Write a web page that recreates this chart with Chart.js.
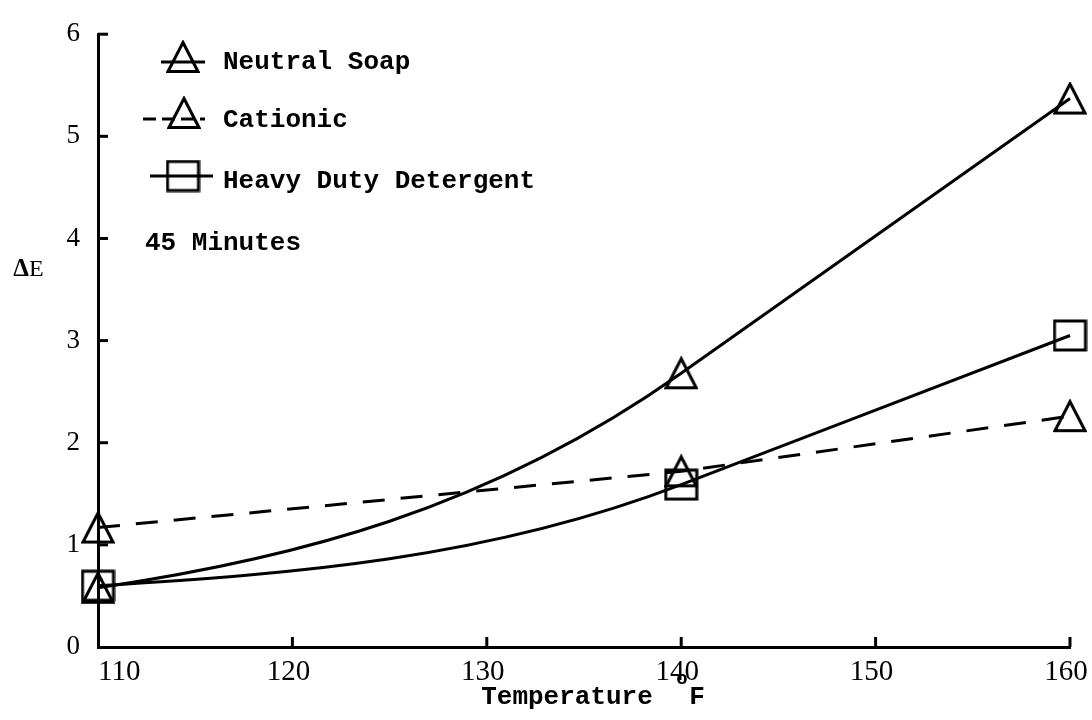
<!DOCTYPE html>
<html>
<head>
<meta charset="utf-8">
<title>ΔE vs Temperature</title>
<script src="https://cdn.jsdelivr.net/npm/chart.js@4.4.0/dist/chart.umd.min.js"></script>
<style>
  html, body { margin: 0; padding: 0; background: #fff; }
  canvas { display: block; }
</style>
</head>
<body>
<canvas id="Chart" width="1092" height="720"></canvas>
<script>
// values
const temps = [110, 140, 160];
const neutralSoap = [0.58, 2.68, 5.37];
const cationic = [1.17, 1.72, 2.26];
const heavyDuty = [0.6, 1.59, 3.05];
const seriesNames = ['Neutral Soap', 'Cationic', 'Heavy Duty Detergent'];
const xTicks = [110, 120, 130, 140, 150, 160];
const yTicks = [0, 1, 2, 3, 4, 5, 6];
const note = '45 Minutes';
const xTitle = 'Temperature';
const xUnit = ['o', 'F'];
const yTitle = ['Δ', 'E'];

const MONO = '"Liberation Mono", "Courier New", monospace';
const SERIF = '"Liberation Serif", "Times New Roman", serif';

// open markers drawn on small canvases (used as pointStyle)
function makeTriangle() {
	const c = document.createElement('canvas');
	c.width = 34; c.height = 34;
	const g = c.getContext('2d');
	g.strokeStyle = '#000';
	g.lineWidth = 3;
	g.beginPath();
	g.moveTo(17, 2.5);
	g.lineTo(32, 31.5);
	g.lineTo(2, 31.5);
	g.closePath();
	g.stroke();
	return c;
}
function makeBox() {
	const c = document.createElement('canvas');
	c.width = 35; c.height = 33;
	const g = c.getContext('2d');
	g.strokeStyle = '#000';
	g.lineWidth = 3;
	g.strokeRect(2, 2, 31, 29);
	return c;
}
const tri = makeTriangle();
const box = makeBox();

const pairs = ys => temps.map((t, i) => ({ x: t, y: ys[i] }));

// white paper
const paper = {
	id: 'paper',
	beforeDraw(chart) {
		const c = chart.ctx;
		c.save();
		c.fillStyle = '#fff';
		c.fillRect(0, 0, chart.width, chart.height);
		c.restore();
	}
};

// hand-drawn look: tangent at each inner point follows the next segment,
// the first segment bends in (mostly parabolic start)
const curveFit = {
	id: 'curveFit',
	beforeDatasetsDraw(chart) {
		chart.data.datasets.forEach((ds, i) => {
			if (!ds.tension) return;
			const meta = chart.getDatasetMeta(i);
			meta.dataset.updateControlPoints(chart.chartArea, 'x');
			const pts = meta.data;
			const n = pts.length;
			if (n < 3) return;
			const slope = k => (pts[k + 1].y - pts[k].y) / (pts[k + 1].x - pts[k].x);
			const m = [];
			for (let k = 1; k < n - 1; k++) m[k] = slope(k);
			m[n - 1] = slope(n - 2);
			let par = 2 * slope(0) - m[1];
			if (par * slope(0) < 0) par = 0;
			m[0] = 0.35 * slope(0) + 0.65 * par;
			pts.forEach((p, k) => {
				const dxPrev = k > 0 ? p.x - pts[k - 1].x : 0;
				const dxNext = k < n - 1 ? pts[k + 1].x - p.x : 0;
				p.cp1x = p.x - dxPrev / 3;
				p.cp1y = p.y - m[k] * dxPrev / 3;
				p.cp2x = p.x + dxNext / 3;
				p.cp2y = p.y + m[k] * dxNext / 3;
			});
		});
	}
};

// inward ticks, x labels, titles, key
const decorations = {
	id: 'decorations',
	afterDraw(chart) {
		const c = chart.ctx;
		const a = chart.chartArea;
		const x = chart.scales.x, y = chart.scales.y;
		c.save();
		c.strokeStyle = '#000';
		c.fillStyle = '#000';
		c.lineWidth = 3;
		const seg = (x1, y1, x2, y2) => { c.beginPath(); c.moveTo(x1, y1); c.lineTo(x2, y2); c.stroke(); };

		yTicks.slice(1).forEach(v => {
			const py = y.getPixelForValue(v);
			seg(a.left, py, a.left + 10, py);
		});
		xTicks.slice(1).forEach(v => {
			const px = x.getPixelForValue(v);
			seg(px, a.bottom, px, a.bottom - 10);
		});

		c.font = '29px ' + SERIF;
		c.textBaseline = 'middle';
		xTicks.forEach((v, i) => {
			const px = x.getPixelForValue(v);
			if (i === 0) { c.textAlign = 'left'; c.fillText(String(v), a.left, a.bottom + 25); }
			else { c.textAlign = 'center'; c.fillText(String(v), px - 4, a.bottom + 25); }
		});

		// x title
		c.font = 'bold 26px ' + MONO;
		c.textAlign = 'center';
		c.fillText(xTitle, 567, 697);
		c.font = 'bold 19px ' + MONO;
		c.fillText(xUnit[0], 682, 679);
		c.font = 'bold 26px ' + MONO;
		c.fillText(xUnit[1], 697, 697);

		// y title
		c.font = 'bold 25px ' + SERIF;
		c.textAlign = 'right';
		c.fillText(yTitle[0], 29, 270);
		c.font = '24px ' + SERIF;
		c.textAlign = 'left';
		c.fillText(yTitle[1], 29, 270);

		// key
		const rows = [62, 120, 181];
		const sample = [[161, 205, 62], [143, 205, 119], [150, 213, 176]];
		const mark = [[183, 57], [184, 113], [183, 176]];
		chart.data.datasets.forEach((ds, i) => {
			const s = sample[i];
			c.lineWidth = 3;
			c.setLineDash(ds.borderDash ? [13, 6] : []);
			seg(s[0], s[2], s[1], s[2]);
			c.setLineDash([]);
			const img = ds.pointStyle;
			c.drawImage(img, mark[i][0] - img.width / 2, mark[i][1] - img.height / 2);
			c.font = 'bold 26px ' + MONO;
			c.textAlign = 'left';
			c.fillText(ds.label, 223, rows[i]);
		});
		c.fillText(note, 145, 243);
		c.restore();
	}
};

const ctx = document.getElementById('Chart').getContext('2d');

const myChart = new Chart(ctx, {
	type: 'line',
	data: {
		datasets: [{
			label: seriesNames[0],
			data: pairs(neutralSoap),
			borderColor: '#000',
			borderWidth: 3,
			tension: 0.4,
			pointStyle: tri,
			pointRadius: 12,
			clip: false,
			fill: false
		}, {
			label: seriesNames[1],
			data: pairs(cationic),
			borderColor: '#000',
			borderWidth: 3,
			borderDash: [22, 16],
			tension: 0,
			pointStyle: tri,
			pointRadius: 12,
			clip: false,
			fill: false
		}, {
			label: seriesNames[2],
			data: pairs(heavyDuty),
			borderColor: '#000',
			borderWidth: 3,
			tension: 0.4,
			pointStyle: box,
			pointRadius: 12,
			clip: false,
			fill: false
		}]
	},
	options: {
		responsive: false,
		animation: false,
		events: [],
		layout: { padding: { top: 23, right: 22, left: 0, bottom: 0 } },
		plugins: {
			legend: { display: false },
			tooltip: { enabled: false }
		},
		scales: {
			x: {
				type: 'linear',
				min: xTicks[0],
				max: xTicks[xTicks.length - 1],
				afterBuildTicks: s => { s.ticks = xTicks.map(v => ({ value: v })); },
				ticks: { display: false },
				grid: { display: false, drawTicks: false },
				border: { display: true, color: '#000', width: 3 },
				afterFit: s => { s.height = 73; }
			},
			y: {
				min: yTicks[0],
				max: yTicks[yTicks.length - 1],
				afterBuildTicks: s => { s.ticks = yTicks.map(v => ({ value: v })); },
				ticks: {
					color: '#000',
					padding: 18,
					font: { family: SERIF, size: 27 }
				},
				grid: { display: false, drawTicks: false },
				border: { display: true, color: '#000', width: 3 },
				afterFit: s => { s.width = 98; }
			}
		}
	},
	plugins: [paper, curveFit, decorations]
});
</script>
</body>
</html>
